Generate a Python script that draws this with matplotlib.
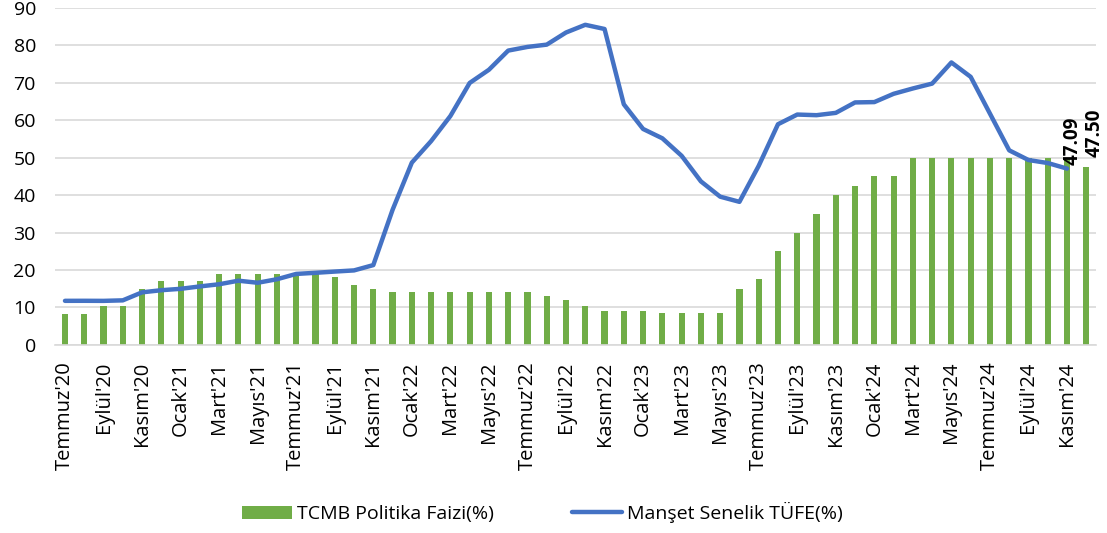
import matplotlib.pyplot as plt
import numpy as np

plt.rcParams['font.family'] = ['Open Sans', 'DejaVu Sans']

# Months Jul 2020 .. Dec 2024
month_names = ["Ocak", "Şubat", "Mart", "Nisan", "Mayıs", "Haziran",
               "Temmuz", "Ağustos", "Eylül", "Ekim", "Kasım", "Aralık"]
months = []
for yr in range(2020, 2025):
    for m in range(12):
        if yr == 2020 and m < 6:
            continue
        months.append(f"{month_names[m]}'{str(yr)[2:]}")

policy_rate = [8.25, 8.25, 10.25, 10.25, 15, 17,
               17, 17, 19, 19, 19, 19, 19, 19, 18, 16, 15, 14,
               14, 14, 14, 14, 14, 14, 14, 13, 12, 10.5, 9, 9,
               9, 8.5, 8.5, 8.5, 8.5, 15, 17.5, 25, 30, 35, 40, 42.5,
               45, 45, 50, 50, 50, 50, 50, 50, 50, 50, 50, 47.5]

cpi = [11.76, 11.77, 11.75, 11.89, 14.03, 14.60,
       14.97, 15.61, 16.19, 17.14, 16.59, 17.53, 18.95, 19.25, 19.58, 19.89, 21.31, 36.08,
       48.69, 54.44, 61.14, 69.97, 73.50, 78.62, 79.60, 80.21, 83.45, 85.51, 84.39, 64.27,
       57.68, 55.18, 50.51, 43.68, 39.59, 38.21, 47.83, 58.94, 61.53, 61.36, 61.98, 64.77,
       64.86, 67.07, 68.50, 69.80, 75.45, 71.60, 61.78, 51.97, 49.38, 48.58, 47.09]

x = np.arange(len(months))

fig, ax = plt.subplots(figsize=(11.07, 5.33), dpi=100)
fig.subplots_adjust(left=0.05, right=0.99, top=0.985, bottom=0.353)

bars = ax.bar(x, policy_rate, width=0.32, color='#70ad47', label='TCMB Politika Faizi(%)', zorder=2)
line, = ax.plot(x[:len(cpi)], cpi, color='#4472c4', linewidth=3.2, label='Manşet Senelik TÜFE(%)',
                zorder=3, solid_capstyle='round')

# end-value labels
ax.text(x[len(cpi) - 1] + 0.3, cpi[-1] + 1.0, f"{cpi[-1]:.2f}", rotation=90, ha='center', va='bottom',
        fontsize=13.5, fontweight='bold', zorder=4)
ax.text(x[-1] + 0.45, policy_rate[-1] + 2.6, f"{policy_rate[-1]:.2f}", rotation=90, ha='center', va='bottom',
        fontsize=13.5, fontweight='bold', zorder=4)

ax.set_ylim(0, 90)
ax.set_yticks(range(0, 91, 10))
ax.set_xlim(-0.5, len(months) - 0.5)
ax.set_xticks(x[::2])
ax.set_xticklabels(months[::2], rotation=90, fontsize=14.5)
ax.tick_params(axis='both', length=0)
ax.tick_params(axis='y', labelsize=14, pad=14)
ax.tick_params(axis='x', pad=12)

ax.grid(axis='y', color='#d9d9d9', linewidth=1.2, zorder=0)
ax.set_axisbelow(True)
for s in ['top', 'right', 'left']:
    ax.spines[s].set_visible(False)
ax.spines['bottom'].set_color('#d9d9d9')
ax.spines['bottom'].set_linewidth(1.2)

fig.legend([bars, line], ['TCMB Politika Faizi(%)', 'Manşet Senelik TÜFE(%)'],
           loc='center', bbox_to_anchor=(0.49, 0.038), ncol=2, frameon=False,
           fontsize=14, handlelength=2.6, columnspacing=4.0, handletextpad=0.25)

fig.savefig('out.png', dpi=100)
